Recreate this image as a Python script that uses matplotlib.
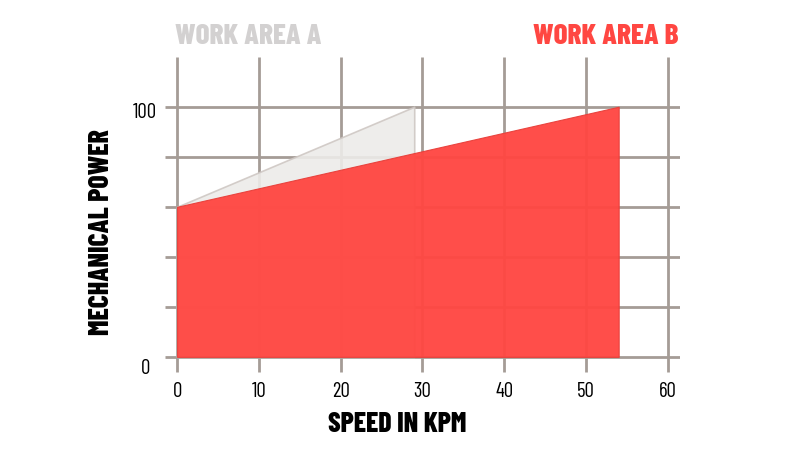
import numpy as np
import matplotlib.pyplot as plt

# data
speed_a = [0, 29]
power_a = [60, 100]
speed_b = [0, 54]
power_b = [60, 100]
x_ticks = [0, 10, 20, 30, 40, 50, 60]
y_grid = [0, 20, 40, 60, 80, 100]
y_labels = [0, 100]

grid_col = '#a59c96'
red = '#ff4742'
font = 'Barlow Condensed'

fig = plt.figure(figsize=(8, 4.5), dpi=100)
ax = fig.add_axes([0.206, 0.168, 0.644, 0.706])
ax.set_xlim(-1.5, 61.5)
ax.set_ylim(-7, 120)
for s in ax.spines.values():
    s.set_visible(False)
ax.set_xticks([])
ax.set_yticks([])

# grid
ax.hlines(y_grid, -1.5, 61.5, color=grid_col, lw=2, zorder=1)
ax.vlines(x_ticks, -6, 120, color=grid_col, lw=2, zorder=1)

# areas
ax.fill_between(speed_a, 0, power_a, color='#edebe9', alpha=0.9,
                edgecolor='#cfc8c4', lw=1.2, zorder=2)
ax.fill_between(speed_b, 0, power_b, color=red, alpha=0.96,
                edgecolor='#e8403b', lw=0.8, zorder=3)

# tick labels
for x in x_ticks:
    ax.text(x, -14, str(x), ha='center', va='center', fontsize=15,
            family=font, color='black')
ax.text(-3.9, -4.5, '0', ha='center', va='center', fontsize=15, family=font)
ax.text(-3.9, 97.5, '100', ha='center', va='center', fontsize=15, family=font)

ax.text(0.451, -0.158, 'SPEED IN KPM', transform=ax.transAxes, ha='center', va='center',
        fontsize=20, fontweight=800, family=font)
ax.text(-0.123, 0.449, 'MECHANICAL POWER', transform=ax.transAxes, ha='center', va='center',
        rotation=90, fontsize=20, fontweight=800, family=font)

# legend labels
fig.text(0.219, 0.918, 'WORK AREA A', ha='left', va='center', fontsize=21,
         fontweight=800, family=font, color='#d3d1d1')
fig.text(0.848, 0.918, 'WORK AREA B', ha='right', va='center', fontsize=21,
         fontweight=800, family=font, color=red)

fig.savefig('out.png', dpi=100)
